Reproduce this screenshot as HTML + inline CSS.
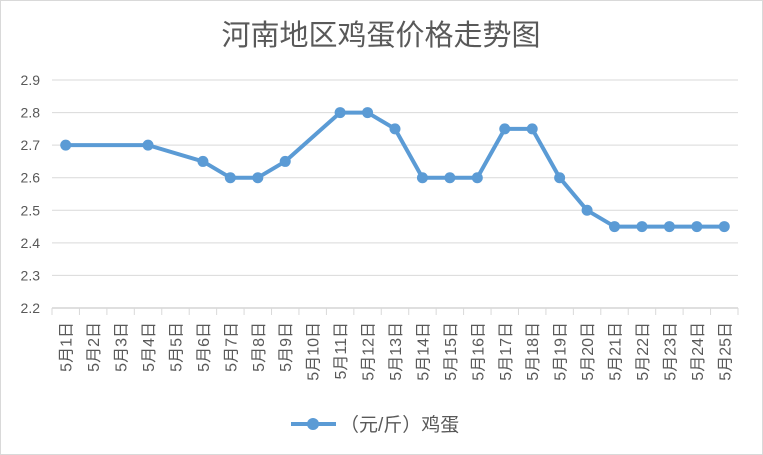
<!DOCTYPE html>
<html><head><meta charset="utf-8"><style>
body{margin:0;background:#fff}
svg{display:block;font-family:"Liberation Sans","Noto Sans CJK SC",sans-serif}
</style></head><body>
<svg id="c" width="763" height="455">
<rect x="0.5" y="0.5" width="762" height="454" fill="#fff" stroke="#d9d9d9"/>
<text x="381" y="45" text-anchor="middle" font-size="29" fill="#595959">河南地区鸡蛋价格走势图</text>
<g id="grid"></g><g id="xa"></g><g id="ser"></g>
<g>
<line x1="291" y1="424" x2="336" y2="424" stroke="#5b9bd5" stroke-width="4"/>
<circle cx="313" cy="424" r="6" fill="#5b9bd5"/>
<text x="340" y="431" font-size="19" fill="#595959">（元/斤）鸡蛋</text>
</g>
</svg>
<script>
const categories=["5月1日","5月2日","5月3日","5月4日","5月5日","5月6日","5月7日","5月8日","5月9日","5月10日","5月11日","5月12日","5月13日","5月14日","5月15日","5月16日","5月17日","5月18日","5月19日","5月20日","5月21日","5月22日","5月23日","5月24日","5月25日"];
const values=[2.7,null,null,2.7,null,2.65,2.6,2.6,2.65,null,2.8,2.8,2.75,2.6,2.6,2.6,2.75,2.75,2.6,2.5,2.45,2.45,2.45,2.45,2.45];
const yTicks=[2.2,2.3,2.4,2.5,2.6,2.7,2.8,2.9];
const NS="http://www.w3.org/2000/svg";
const L=52,R=738,T=80,B=308,yMin=2.2,yMax=2.9;
const bw=(R-L)/categories.length;
const x=i=>L+bw*(i+0.5);
const y=v=>B-(v-yMin)/(yMax-yMin)*(B-T);
function mk(p,t,a){const e=document.createElementNS(NS,t);for(const k in a)e.setAttribute(k,a[k]);p.appendChild(e);return e;}
const g=document.getElementById('grid'),xa=document.getElementById('xa'),s=document.getElementById('ser');
yTicks.forEach(v=>{
 const ln=mk(g,'line',{x1:L,x2:R,y1:y(v),y2:y(v),stroke:v===yMin?'#bfbfbf':'#d9d9d9'});
 
 
 const t=mk(g,'text',{x:L-12,y:y(v)+5,'text-anchor':'end','font-size':14,fill:'#595959'});
 t.textContent=v.toFixed(1);
 
 
});
for(let i=0;i<=categories.length;i++){
 const tk=mk(xa,'line',{x1:L+bw*i,x2:L+bw*i,y1:B,y2:B+7,stroke:'#d9d9d9'});
 
 
}
categories.forEach((c,i)=>{
 const t=mk(xa,'text',{x:0,y:0,transform:`translate(${x(i)+6},${B+14}) rotate(-90)`,'text-anchor':'end','font-size':16,fill:'#595959'});
 t.textContent=c;
 
 
});
const pts=values.map((v,i)=>v==null?null:[x(i),y(v)]).filter(p=>p);
const pl=mk(s,'polyline',{points:pts.map(p=>p.join(',')).join(' '),fill:'none',stroke:'#5b9bd5','stroke-width':4,'stroke-linejoin':'round'});


pts.forEach(p=>{
 const c=mk(s,'circle',{cx:p[0],cy:p[1],r:5.5,fill:'#5b9bd5'});
 
 
});
</script>
</body></html>
